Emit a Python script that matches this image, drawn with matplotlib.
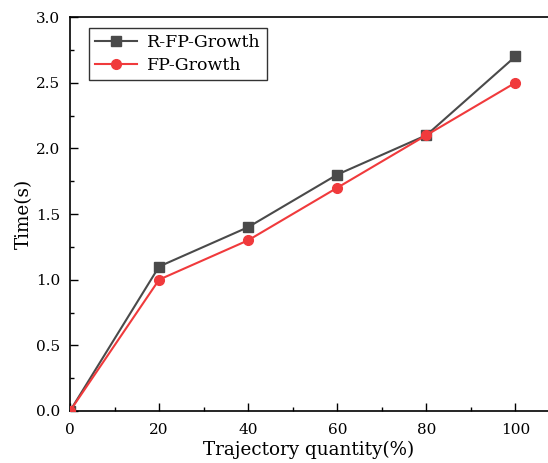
import matplotlib
matplotlib.use('Agg')
import matplotlib.pyplot as plt
from matplotlib.ticker import MultipleLocator

# data
quantity = [0, 20, 40, 60, 80, 100]
r_fp_growth = [0, 1.1, 1.4, 1.8, 2.1, 2.7]
fp_growth = [0, 1.0, 1.3, 1.7, 2.1, 2.5]

plt.rcParams['font.family'] = ['DejaVu Serif']

fig = plt.figure(figsize=(5.48, 4.63), dpi=100)
ax = fig.add_axes([70 / 548, 1 - 411 / 463, 1 - 70 / 548, (411 - 17) / 463])

ax.plot(quantity, r_fp_growth, color='#4a4a4a', marker='s', markersize=6.5,
        linewidth=1.5, label='R-FP-Growth', zorder=3)
ax.plot(quantity, fp_growth, color='#f03a3c', marker='o', markersize=7,
        linewidth=1.5, label='FP-Growth', zorder=3)

ax.set_xlim(0, 107.3)
ax.set_ylim(0, 3.0)
ax.xaxis.set_major_locator(MultipleLocator(20))
ax.xaxis.set_minor_locator(MultipleLocator(10))
ax.yaxis.set_major_locator(MultipleLocator(0.5))
ax.yaxis.set_minor_locator(MultipleLocator(0.25))
ax.yaxis.set_major_formatter(plt.FuncFormatter(lambda v, p: f'{v:.1f}'))

ax.tick_params(which='major', direction='in', length=6, width=1, labelsize=11)
ax.tick_params(which='minor', direction='in', length=3, width=1)
ax.tick_params(axis='x', pad=9)
ax.tick_params(axis='y', pad=7)
ax.spines['right'].set_visible(False)
for s in ['left', 'bottom', 'top']:
    ax.spines[s].set_linewidth(1.2)

ax.set_xlabel('Trajectory quantity(%)', fontsize=13.2, labelpad=2)
ax.set_ylabel('Time(s)', fontsize=13.2, labelpad=2)

leg = ax.legend(loc='upper left', bbox_to_anchor=(0.04, 0.972), fontsize=12.5,
                frameon=True, fancybox=False, edgecolor='black',
                handlelength=2.4, borderpad=0.35, labelspacing=0.35,
                handletextpad=0.6, borderaxespad=0)
leg.get_frame().set_linewidth(1.0)

fig.savefig('out.png', dpi=100)
